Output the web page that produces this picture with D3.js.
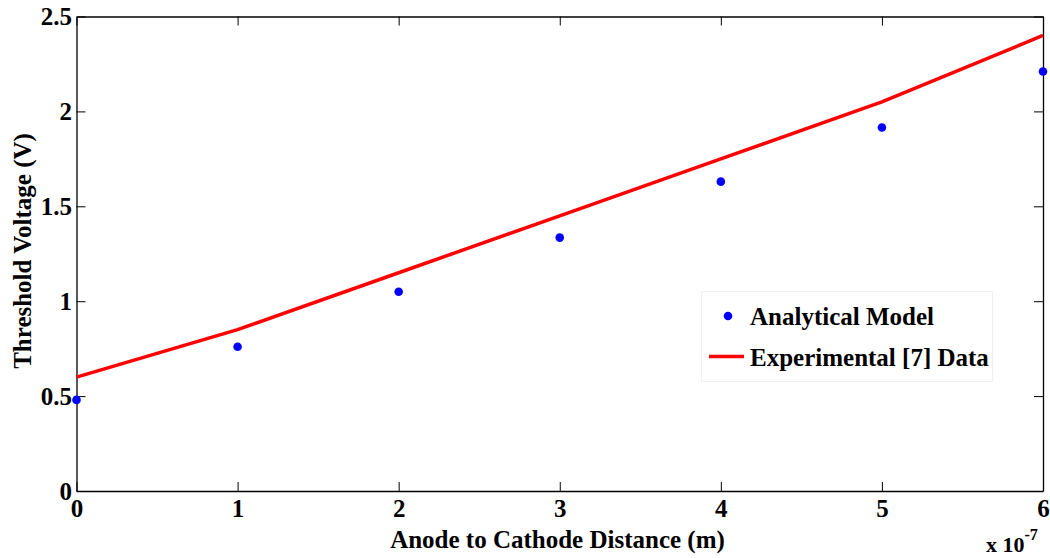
<!DOCTYPE html>
<html>
<head>
<meta charset="utf-8">
<script src="https://cdn.jsdelivr.net/npm/d3@7"></script>
<style>
  html, body { margin: 0; padding: 0; background: #fff; }
  svg { display: block; }
  text { font-family: "Liberation Serif", "Times New Roman", serif; font-weight: bold; fill: #000; }
</style>
</head>
<body>
<svg id="chart" width="1050" height="558"></svg>
<script>
// Anode-to-cathode distance (units of 1e-7 m)
const distances = [0, 1, 2, 3, 4, 5, 6];
// Threshold voltage from the analytical model (V)
const analyticalModel = [0.48, 0.76, 1.05, 1.335, 1.63, 1.915, 2.21];
// Threshold voltage, experimental data (V)
const experimentalData = [0.60, 0.85, 1.15, 1.45, 1.75, 2.05, 2.40];
const xTicks = [0, 1, 2, 3, 4, 5, 6];
const yTicks = [0, 0.5, 1, 1.5, 2, 2.5];
const yTickLabels = ["0", "0.5", "1", "1.5", "2", "2.5"];

const svg = d3.select("#chart");
const plotLeft = 76.5, plotRight = 1043, plotTop = 16.5, plotBottom = 491;
const fontSize = 25;

const x = d3.scaleLinear().domain([0, 6]).range([plotLeft, plotRight]);
const y = d3.scaleLinear().domain([0, 2.5]).range([plotBottom, plotTop]);

const tickLen = 9;

// Axes: ticks pointing inward, box mirrored on top and right
const xAxisBottom = d3.axisBottom(x).tickValues(xTicks).tickSizeInner(-tickLen).tickSizeOuter(0).tickPadding(8).tickFormat(d3.format("d"));
const xAxisTop = d3.axisTop(x).tickValues(xTicks).tickSizeInner(-tickLen).tickSizeOuter(0).tickFormat("");
const yAxisLeft = d3.axisLeft(y).tickValues(yTicks).tickSizeInner(-tickLen).tickSizeOuter(0).tickPadding(4.5)
  .tickFormat((d, i) => yTickLabels[i]);
const yAxisRight = d3.axisRight(y).tickValues(yTicks).tickSizeInner(-tickLen).tickSizeOuter(0).tickFormat("");

function styleAxis(g) {
  g.select(".domain").attr("stroke", "#000").attr("stroke-width", 1.3);
  g.selectAll(".tick line").attr("stroke", "#000").attr("stroke-width", 1);
  g.selectAll(".tick text").attr("font-size", fontSize).attr("font-family", "Liberation Serif, serif").attr("font-weight", "bold").attr("fill", "#000");
}

svg.append("g").attr("transform", `translate(0,${plotBottom})`).call(xAxisBottom).call(styleAxis);
svg.append("g").attr("transform", `translate(0,${plotTop})`).call(xAxisTop).call(styleAxis);
svg.append("g").attr("transform", `translate(${plotLeft},0)`).call(yAxisLeft).call(styleAxis);
svg.append("g").attr("transform", `translate(${plotRight},0)`).call(yAxisRight).call(styleAxis);

// Experimental data line
const line = d3.line().x((d, i) => x(distances[i])).y(d => y(d));
svg.append("path")
  .datum(experimentalData)
  .attr("d", line)
  .attr("fill", "none")
  .attr("stroke", "#ff0000")
  .attr("stroke-width", 3.5);

// Analytical model points
svg.append("g").selectAll("circle")
  .data(analyticalModel)
  .join("circle")
  .attr("cx", (d, i) => x(distances[i]))
  .attr("cy", d => y(d))
  .attr("r", 4.3)
  .attr("fill", "#0000ff");

// Axis titles
svg.append("text")
  .attr("x", 557.5)
  .attr("y", 548)
  .attr("text-anchor", "middle")
  .attr("font-size", fontSize)
  .text("Anode to Cathode Distance (m)");

svg.append("text")
  .attr("transform", "translate(31,251) rotate(-90)")
  .attr("text-anchor", "middle")
  .attr("font-size", fontSize)
  .text("Threshold Voltage (V)");

// Exponent label
const expo = svg.append("text")
  .attr("x", 986)
  .attr("y", 552)
  .attr("font-size", 22);
expo.append("tspan").text("x 10");
expo.append("tspan").attr("dy", -12).attr("font-size", 16).text("-7");

// Legend
const lg = svg.append("g");
lg.append("rect")
  .attr("x", 701.5).attr("y", 291.5)
  .attr("width", 291).attr("height", 90)
  .attr("fill", "#fff")
  .attr("stroke", "#f0f0f0")
  .attr("stroke-width", 1);
lg.append("circle").attr("cx", 728).attr("cy", 316).attr("r", 4.3).attr("fill", "#0000ff");
lg.append("text").attr("x", 750).attr("y", 325).attr("font-size", fontSize).text("Analytical Model");
lg.append("line").attr("x1", 709).attr("x2", 744).attr("y1", 356.5).attr("y2", 356.5)
  .attr("stroke", "#ff0000").attr("stroke-width", 3.5);
lg.append("text").attr("x", 750).attr("y", 366).attr("font-size", fontSize).text("Experimental [7] Data");
</script>
</body>
</html>
